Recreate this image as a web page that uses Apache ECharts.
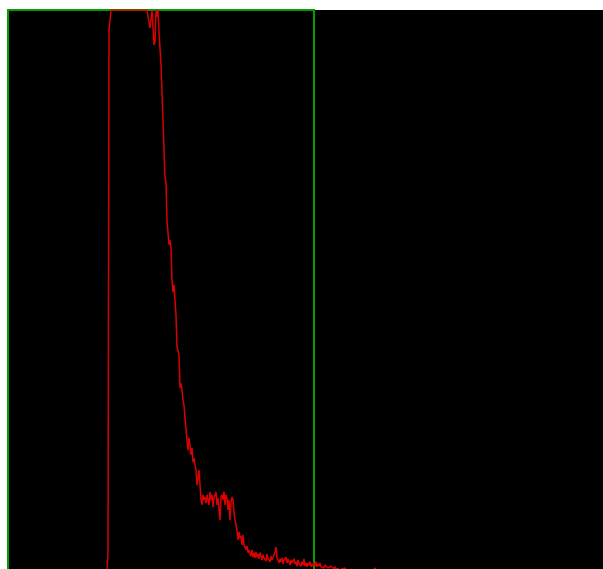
<!DOCTYPE html>
<html>
<head>
<meta charset="utf-8">
<title>Histogram</title>
<script src="https://cdn.jsdelivr.net/npm/echarts@6/dist/echarts.min.js"></script>
<style>
  html, body { margin: 0; padding: 0; background: #ffffff; overflow: hidden; }
  #chart { width: 603px; height: 580px; }
</style>
</head>
<body>
<div id="chart"></div>
<script>
// Histogram counts, one per bin, starting at firstBin
const firstBin = 96;
const counts = [
  0, 0, 0, 4, 37, 963, 964,
  1000, 1000, 1000, 1000, 1000, 1000, 1000, 1000, 1000, 1000,
  1000, 1000, 1000, 1000, 1000, 1000, 1000, 1000, 1000, 1000,
  1000, 1000, 1000, 1000, 1000, 1000, 1000, 1000, 1000, 1000,
  1000, 1000, 1000, 1000, 1000, 1000, 1000, 1000, 1000,
  968, 970, 1000, 1000, 938, 943, 1000, 988, 1000, 961, 964,
  902, 853, 806, 751, 703, 693, 627, 604, 583, 591, 577, 520, 499, 512,
  485, 458, 401, 396, 387, 329, 337, 325, 307, 298, 275, 272, 236, 218,
  240, 227, 210, 222, 197, 204, 192, 183, 156, 169, 183, 156, 130, 121,
  139, 130, 135, 124, 139, 130, 121, 144, 130, 139, 117, 133, 130, 144,
  121, 133, 130, 94, 135, 139, 130, 144, 121, 139, 133, 112, 130, 94,
  124, 135, 130, 108, 94, 85, 76, 59, 73, 62, 66, 50, 68, 50, 46, 41,
  48, 36, 41, 34, 30, 41, 28, 36, 27, 37, 28, 34, 25, 36, 30, 23, 32,
  27, 30, 21, 34, 25, 28, 20, 30, 23, 27, 32, 37, 46, 27, 23, 18, 25,
  20, 27, 16, 23, 20, 28, 18, 25, 20, 14, 23, 18, 21, 25, 16, 20, 12,
  23, 16, 18, 12, 20, 14, 25, 12, 18, 11, 18, 14, 20, 11, 16, 12, 18,
  12, 20, 11, 16, 12, 18, 11, 14, 12, 9, 14, 11, 12, 9, 12, 7, 12, 9,
  11, 7, 11, 9, 5, 9, 5, 7, 4, 7, 4, 5, 9, 4, 2, 4, 2, 0, 4, 7, 2, 0,
  2, 0, 2, 0, 4, 0, 2, 0, 0, 5, 2, 0, 0, 0, 0, 0, 0, 0, 0, 0, 9, 0, 0
];
// Bin range and count range of the display, and the selected window of bins
const binRange = [0, 595];
const countRange = [0, 1000];
const selectionBins = [0, 306];

const points = counts.map((c, i) => [firstBin + i, c]);

const chart = echarts.init(document.getElementById('chart'), null, { renderer: 'canvas' });
chart.setOption({
  animation: false,
  backgroundColor: '#ffffff',
  // the plot runs a few pixels past the lower edge of the window
  grid: {
    left: 8, top: 10, right: 0, bottom: 7,
    show: true, backgroundColor: '#000000', borderWidth: 0
  },
  xAxis: {
    type: 'value', min: binRange[0], max: binRange[1], show: false
  },
  yAxis: {
    type: 'value', min: countRange[0], max: countRange[1], show: false
  },
  series: [{
    type: 'line',
    data: points,
    showSymbol: false,
    clip: true,
    lineStyle: { color: '#dc0000', width: 1.5 },
    markArea: {
      silent: true,
      itemStyle: { color: 'rgba(0,0,0,0)', borderColor: '#00a000', borderWidth: 2 },
      data: [[
        { xAxis: selectionBins[0], yAxis: countRange[0] },
        { xAxis: selectionBins[1], yAxis: countRange[1] }
      ]]
    }
  }]
});
</script>
</body>
</html>
